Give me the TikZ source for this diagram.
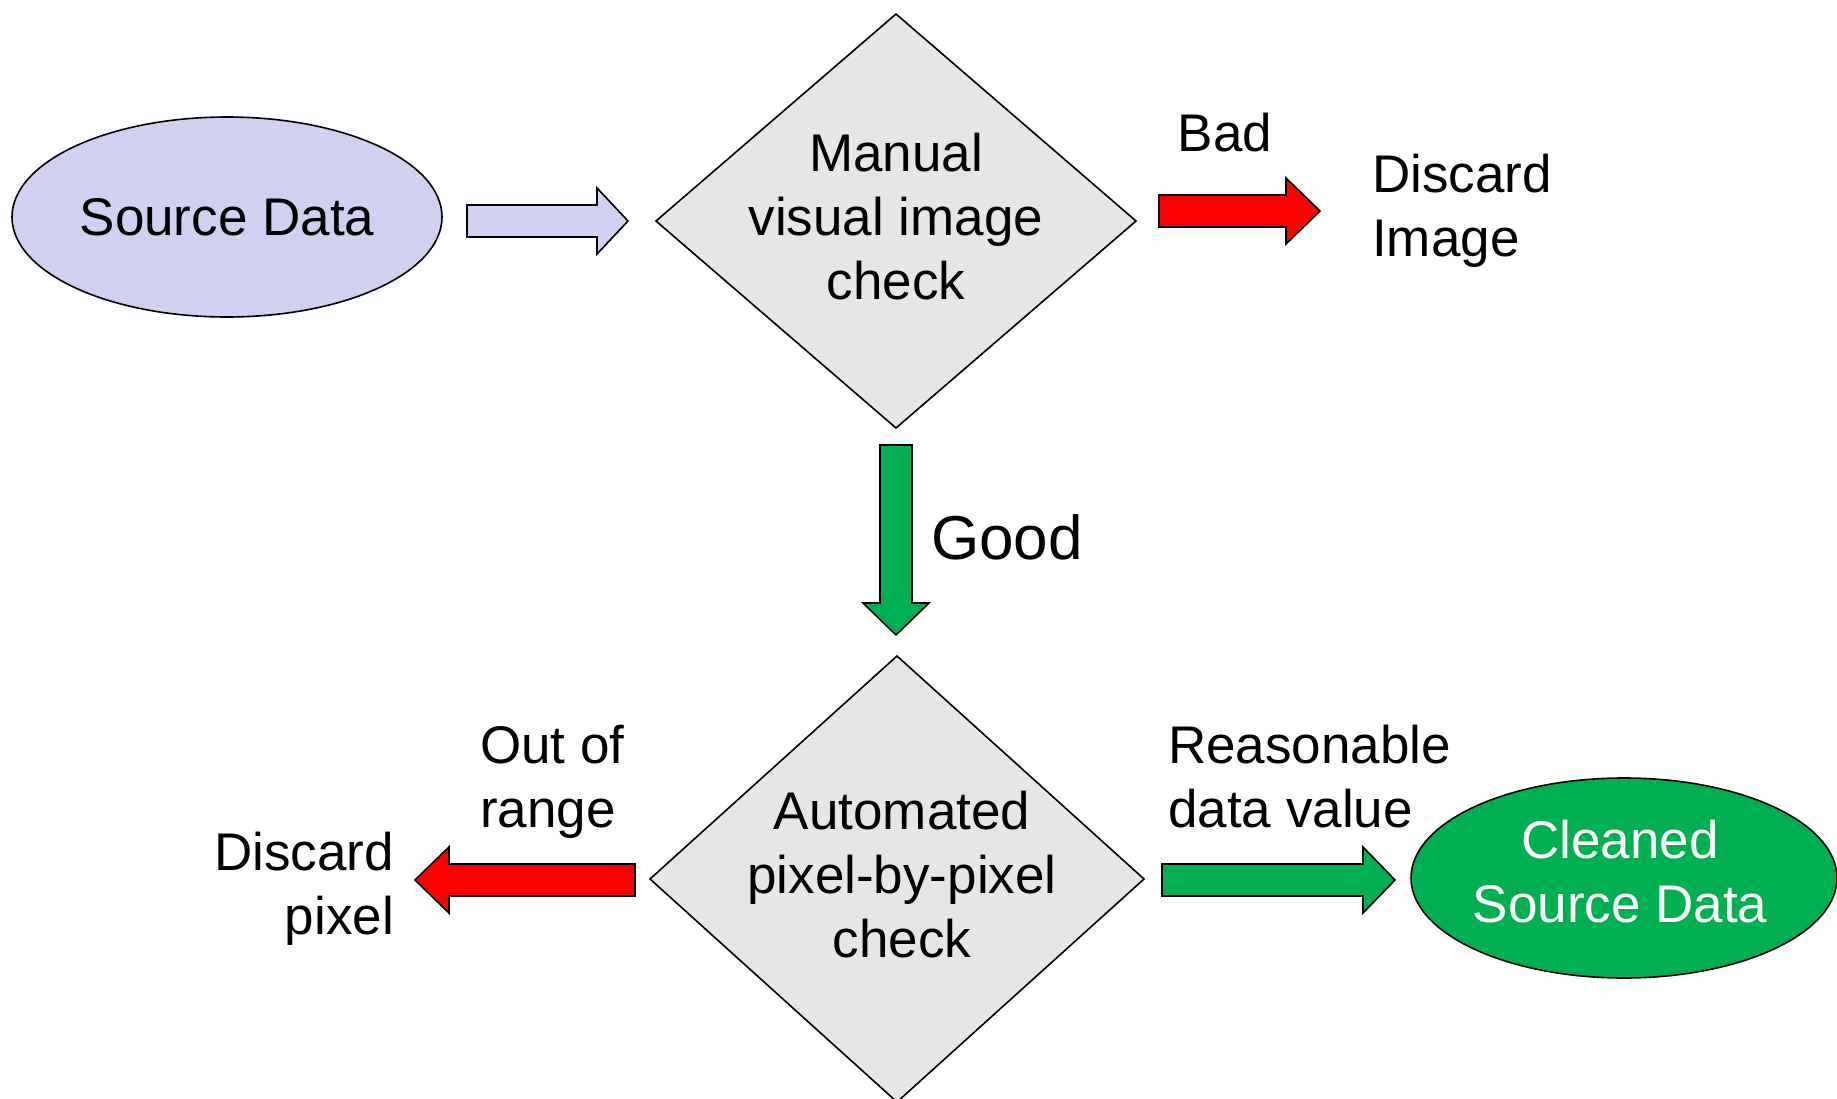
\documentclass[tikz,border=0pt]{standalone}
\usepackage{fontspec}
\setmainfont{Liberation Sans}
\usetikzlibrary{shapes.geometric}

\definecolor{lavender}{RGB}{208,208,240}
\definecolor{panelgray}{RGB}{230,230,230}
\definecolor{okgreen}{RGB}{0,176,80}
\definecolor{badred}{RGB}{255,0,0}

% horizontal block arrow: style, tail x, tip x, centre y, head base x
\newcommand\hblock[5]{%
  \draw[#1] (#2,#4-16) -- (#5,#4-16) -- (#5,#4-33) -- (#3,#4)
    -- (#5,#4+33) -- (#5,#4+16) -- (#2,#4+16) -- cycle;}
% vertical block arrow: style, centre x, tail y, tip y, head base y
\newcommand\vblock[5]{%
  \draw[#1] (#2-16,#3) -- (#2-16,#5) -- (#2-33,#5) -- (#2,#4)
    -- (#2+33,#5) -- (#2+16,#5) -- (#2+16,#3) -- cycle;}

\tikzset{
  outline/.style={draw=black, line width=1.6pt, line join=miter},
  txt/.style={font=\fontsize{53}{64}\selectfont, inner sep=0pt},
  blob/.style={ellipse, outline, minimum width=430pt, minimum height=200pt,
    inner sep=0pt, align=center, font=\fontsize{53}{64}\selectfont},
  decision/.style={outline, fill=panelgray},
}

\begin{document}
\begin{tikzpicture}[x=1pt, y=-1pt]
  \useasboundingbox (0,0) rectangle (1837,1098);

  % start and end states
  \node[blob, fill=lavender] (src) at (227,217) {Source Data};
  \node[ellipse, outline, fill=okgreen, minimum width=426pt, minimum height=200pt]
    (clean) at (1624,878) {};
  \node[txt, align=center, text=white] (cleantext) at (1620,872) {Cleaned\\Source Data};

  % decision diamonds
  \coordinate (d1) at (896,221);
  \draw[decision] (d1) ++(0,-207) -- ++(240,207) -- ++(-240,207) -- ++(-240,-207) -- cycle;
  \node[txt, align=center] (d1text) at (896,217) {Manual\\visual image\\check};

  \coordinate (d2) at (897,879);
  \draw[decision] (d2) ++(0,-223) -- ++(247,223) -- ++(-247,223) -- ++(-247,-223) -- cycle;
  \node[txt, align=center] (d2text) at (902,875) {Automated\\pixel-by-pixel\\check};

  % block arrows
  \hblock{outline, fill=lavender}{467}{628}{221}{597}
  \hblock{outline, fill=badred}{1159}{1320}{211}{1286}
  \vblock{outline, fill=okgreen}{896}{445}{635}{603}
  \hblock{outline, fill=badred}{635}{415}{880}{449}
  \hblock{outline, fill=okgreen}{1162}{1395}{880}{1363}

  % outcome labels
  \node[txt] (bad) at (1225,133) {Bad};
  \node[txt, anchor=west, align=left] (discimg) at (1372,211) {Discard\\Image};
  \node[txt, anchor=west, font=\fontsize{62}{70}\selectfont] (good) at (931,537) {Good};
  \node[txt, anchor=west, align=left] (oor) at (480,782) {Out of\\range};
  \node[txt, anchor=east, align=right] (discpix) at (394,889) {Discard\\pixel};
  \node[txt, anchor=west, align=left] (reas) at (1168,777) {Reasonable\\data value};
\end{tikzpicture}
\end{document}
